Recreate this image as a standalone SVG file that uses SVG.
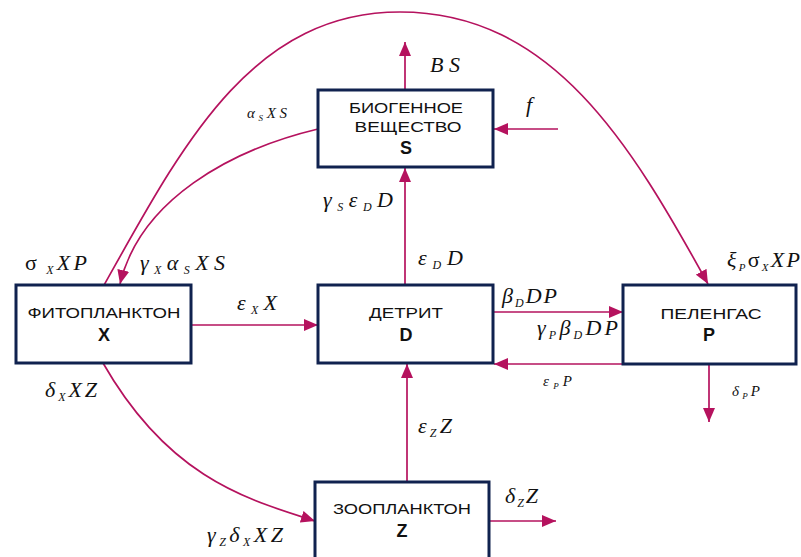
<svg xmlns="http://www.w3.org/2000/svg" width="801" height="557" viewBox="0 0 801 557">
<defs>
<marker id="ah" markerUnits="userSpaceOnUse" markerWidth="16" markerHeight="12" refX="14" refY="6" orient="auto">
<path d="M0,0 L14,6 L0,12 Z" fill="#b5125e"/>
</marker>
<style>
.box{fill:#fff;stroke:#10224f;stroke-width:3}
.lbl{font-family:"Liberation Sans",sans-serif;font-size:15.5px;fill:#111;text-anchor:middle}
.sym{font-family:"Liberation Sans",sans-serif;font-size:18px;font-weight:bold;fill:#111;text-anchor:middle}
.c{fill:none;stroke:#b5125e;stroke-width:1.7}
.m{font-family:"Liberation Serif",serif;font-style:italic;font-size:22px;fill:#111}
.s{font-size:12px}
.sm{font-family:"Liberation Serif",serif;font-style:italic;font-size:15px;fill:#111}
.t{font-size:9px}
.up{font-style:normal}
</style>
</defs>
<rect width="801" height="557" fill="#fff"/>
<g id="connectors">
<path class="c" d="M103,287 C181,148 250,12 400,12 C552,12 631,144 708,284" marker-end="url(#ah)"/>
<path class="c" d="M318,129 C230,150 140,200 120,284" marker-end="url(#ah)"/>
<path class="c" d="M103,363 C170,480 250,500 315,521" marker-end="url(#ah)"/>
<line class="c" x1="405" y1="90" x2="405" y2="42" marker-end="url(#ah)"/>
<line class="c" x1="558" y1="129" x2="494" y2="129" marker-end="url(#ah)"/>
<line class="c" x1="405" y1="285" x2="405" y2="168" marker-end="url(#ah)"/>
<line class="c" x1="191" y1="325" x2="318" y2="325" marker-end="url(#ah)"/>
<line class="c" x1="493" y1="312" x2="623" y2="312" marker-end="url(#ah)"/>
<line class="c" x1="623" y1="364" x2="494" y2="364" marker-end="url(#ah)"/>
<line class="c" x1="709" y1="364" x2="709" y2="422" marker-end="url(#ah)"/>
<line class="c" x1="407" y1="482" x2="407" y2="364" marker-end="url(#ah)"/>
<line class="c" x1="489" y1="521" x2="556" y2="521" marker-end="url(#ah)"/>
</g>
<g id="S">
<rect class="box" x="318" y="90" width="175" height="77"/>
<text class="lbl" x="406" y="113" textLength="114" lengthAdjust="spacingAndGlyphs">БИОГЕННОЕ</text>
<text class="lbl" x="408" y="132" textLength="107" lengthAdjust="spacingAndGlyphs">ВЕЩЕСТВО</text>
<text class="sym" x="406" y="154">S</text>
</g>
<g id="X">
<rect class="box" x="16" y="285" width="175" height="78"/>
<text class="lbl" x="104" y="318" textLength="153" lengthAdjust="spacingAndGlyphs">ФИТОПЛАНКТОН</text>
<text class="sym" x="104" y="341">X</text>
</g>
<g id="D">
<rect class="box" x="318" y="285" width="175" height="78"/>
<text class="lbl" x="406" y="318" textLength="74" lengthAdjust="spacingAndGlyphs">ДЕТРИТ</text>
<text class="sym" x="406" y="341">D</text>
</g>
<g id="P">
<rect class="box" x="623" y="285" width="173" height="79"/>
<text class="lbl" x="711" y="319" textLength="101" lengthAdjust="spacingAndGlyphs">ПЕЛЕНГАС</text>
<text class="sym" x="709" y="341">P</text>
</g>
<g id="Z">
<rect class="box" x="315" y="482" width="174" height="90"/>
<text class="lbl" x="402" y="514" textLength="138" lengthAdjust="spacingAndGlyphs">ЗООПЛАНКТОН</text>
<text class="sym" x="402" y="537">Z</text>
</g>
<g id="labels">
<text class="m" x="430" y="72" textLength="30">BS</text>
<text class="m" x="526" y="112">f</text>
<text class="sm" x="247" y="118" textLength="40">α<tspan class="t" dy="3">S</tspan><tspan dy="-3">XS</tspan></text>
<text class="m" x="25" y="270" textLength="62"><tspan class="up">σ</tspan><tspan class="s" dy="4"> X</tspan><tspan dy="-4">XP</tspan></text>
<text class="m" x="140" y="270" textLength="85">γ<tspan class="s" dy="4">X</tspan><tspan dy="-4">α</tspan><tspan class="s" dy="4">S</tspan><tspan dy="-4">XS</tspan></text>
<text class="m" x="323" y="207" textLength="70">γ<tspan class="s" dy="4">S</tspan><tspan dy="-4">ε</tspan><tspan class="s" dy="4">D</tspan><tspan dy="-4">D</tspan></text>
<text class="m" x="418" y="265" textLength="45">ε<tspan class="s" dy="4">D</tspan><tspan dy="-4">D</tspan></text>
<text class="m" x="237" y="310" textLength="40">ε<tspan class="s" dy="4">X</tspan><tspan dy="-4">X</tspan></text>
<text class="m" x="45" y="397" textLength="52">δ<tspan class="s" dy="4">X</tspan><tspan dy="-4">XZ</tspan></text>
<text class="m" x="502" y="303" textLength="55">β<tspan class="s" dy="4">D</tspan><tspan dy="-4">DP</tspan></text>
<text class="m" x="537" y="335" textLength="81">γ<tspan class="s" dy="4">P</tspan><tspan dy="-4">β</tspan><tspan class="s" dy="4">D</tspan><tspan dy="-4">DP</tspan></text>
<text class="sm" x="543" y="386" textLength="29">ε<tspan class="t" dy="3">P</tspan><tspan dy="-3">P</tspan></text>
<text class="sm" x="732" y="396" textLength="28">δ<tspan class="t" dy="3">P</tspan><tspan dy="-3">P</tspan></text>
<text class="m" x="727" y="267" font-size="20" textLength="73">ξ<tspan font-size="11" dy="4">P</tspan><tspan class="up" dy="-4">σ</tspan><tspan font-size="11" dy="4">X</tspan><tspan dy="-4">XP</tspan></text>
<text class="m" x="418" y="433" textLength="34">ε<tspan class="s" dy="4">Z</tspan><tspan dy="-4">Z</tspan></text>
<text class="m" x="505" y="503" textLength="33">δ<tspan class="s" dy="4">Z</tspan><tspan dy="-4">Z</tspan></text>
<text class="m" x="207" y="542" textLength="76">γ<tspan class="s" dy="4">Z</tspan><tspan dy="-4">δ</tspan><tspan class="s" dy="4">X</tspan><tspan dy="-4">XZ</tspan></text>
</g>
</svg>
